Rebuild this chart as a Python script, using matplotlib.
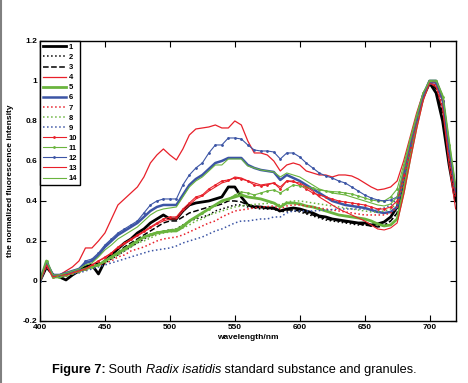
import matplotlib
matplotlib.use("Agg")
import matplotlib.pyplot as plt
import numpy as np
from matplotlib.lines import Line2D

plt.rcParams['font.family'] = ['Liberation Sans', 'DejaVu Sans']

# wavelength grid (nm), one reading every 5 nm
wl = np.arange(400, 721, 5)

# normalized fluorescence intensity, 400..720 nm
s1 = [0.00, 0.07, 0.03, 0.02, 0.005, 0.03, 0.05, 0.07, 0.08, 0.035, 0.10, 0.13, 0.16, 0.19, 0.21, 0.24, 0.26, 0.29, 0.31, 0.33,
      0.31, 0.31, 0.35, 0.38, 0.39, 0.395, 0.40, 0.41, 0.42, 0.47, 0.47, 0.42, 0.38, 0.37, 0.37, 0.365, 0.365, 0.35, 0.36, 0.365,
      0.36, 0.35, 0.34, 0.325, 0.32, 0.31, 0.305, 0.30, 0.295, 0.29, 0.29, 0.28, 0.285, 0.295, 0.32, 0.37, 0.50, 0.65, 0.80, 0.92,
      0.99, 0.94, 0.80, 0.58, 0.40]
s2 = [0.00, 0.08, 0.03, 0.03, 0.03, 0.04, 0.05, 0.06, 0.07, 0.08, 0.09, 0.11, 0.13, 0.15, 0.17, 0.19, 0.21, 0.225, 0.24, 0.25,
      0.255, 0.26, 0.28, 0.30, 0.31, 0.32, 0.33, 0.35, 0.36, 0.37, 0.38, 0.38, 0.37, 0.365, 0.36, 0.36, 0.36, 0.345, 0.35, 0.35,
      0.345, 0.335, 0.325, 0.315, 0.305, 0.30, 0.295, 0.29, 0.285, 0.28, 0.28, 0.275, 0.275, 0.28, 0.30, 0.34, 0.48, 0.64, 0.79, 0.92,
      1.00, 0.97, 0.86, 0.62, 0.42]
s3 = [0.00, 0.08, 0.03, 0.03, 0.03, 0.04, 0.05, 0.07, 0.08, 0.09, 0.10, 0.12, 0.14, 0.17, 0.19, 0.21, 0.23, 0.25, 0.27, 0.29,
      0.30, 0.30, 0.32, 0.34, 0.35, 0.36, 0.37, 0.375, 0.385, 0.40, 0.40, 0.395, 0.38, 0.375, 0.37, 0.365, 0.36, 0.35, 0.355, 0.355,
      0.35, 0.34, 0.33, 0.32, 0.31, 0.305, 0.30, 0.295, 0.29, 0.285, 0.28, 0.275, 0.27, 0.275, 0.30, 0.34, 0.48, 0.64, 0.79, 0.92,
      1.00, 0.96, 0.84, 0.60, 0.41]
s4 = [0.00, 0.08, 0.02, 0.03, 0.05, 0.07, 0.10, 0.165, 0.165, 0.20, 0.24, 0.31, 0.38, 0.41, 0.44, 0.47, 0.52, 0.59, 0.63, 0.66,
      0.63, 0.605, 0.66, 0.73, 0.76, 0.765, 0.77, 0.78, 0.765, 0.765, 0.80, 0.78, 0.70, 0.64, 0.64, 0.63, 0.60, 0.55, 0.58, 0.59,
      0.58, 0.55, 0.54, 0.53, 0.53, 0.52, 0.53, 0.53, 0.525, 0.51, 0.49, 0.47, 0.455, 0.46, 0.47, 0.50, 0.60, 0.72, 0.84, 0.94,
      0.99, 0.98, 0.90, 0.66, 0.45]
s5 = [0.00, 0.10, 0.02, 0.02, 0.03, 0.04, 0.05, 0.06, 0.07, 0.08, 0.10, 0.12, 0.14, 0.16, 0.18, 0.20, 0.22, 0.23, 0.24, 0.245,
      0.25, 0.25, 0.27, 0.30, 0.32, 0.34, 0.36, 0.38, 0.40, 0.41, 0.42, 0.43, 0.42, 0.415, 0.41, 0.40, 0.39, 0.37, 0.39, 0.39,
      0.385, 0.375, 0.37, 0.36, 0.35, 0.34, 0.33, 0.325, 0.32, 0.315, 0.31, 0.30, 0.285, 0.275, 0.28, 0.31, 0.45, 0.62, 0.78, 0.92,
      1.00, 1.00, 0.92, 0.68, 0.45]
s6 = [0.00, 0.09, 0.03, 0.03, 0.04, 0.05, 0.06, 0.09, 0.10, 0.13, 0.17, 0.20, 0.23, 0.25, 0.27, 0.29, 0.32, 0.35, 0.37, 0.38,
      0.38, 0.38, 0.43, 0.48, 0.51, 0.53, 0.56, 0.59, 0.60, 0.615, 0.615, 0.615, 0.58, 0.565, 0.555, 0.55, 0.545, 0.505, 0.53, 0.515,
      0.50, 0.48, 0.46, 0.44, 0.42, 0.40, 0.39, 0.38, 0.375, 0.37, 0.365, 0.355, 0.345, 0.34, 0.345, 0.37, 0.52, 0.67, 0.81, 0.93,
      1.00, 1.00, 0.91, 0.66, 0.44]
s7 = [0.00, 0.07, 0.02, 0.02, 0.03, 0.04, 0.05, 0.06, 0.07, 0.08, 0.09, 0.10, 0.12, 0.13, 0.15, 0.16, 0.17, 0.185, 0.20, 0.21,
      0.215, 0.22, 0.23, 0.245, 0.26, 0.275, 0.29, 0.30, 0.32, 0.335, 0.35, 0.355, 0.36, 0.365, 0.37, 0.372, 0.375, 0.36, 0.375, 0.38,
      0.38, 0.375, 0.37, 0.365, 0.36, 0.355, 0.35, 0.345, 0.34, 0.335, 0.33, 0.33, 0.33, 0.33, 0.34, 0.37, 0.50, 0.65, 0.80, 0.93,
      1.00, 0.98, 0.88, 0.62, 0.41]
s8 = [0.00, 0.09, 0.02, 0.02, 0.03, 0.04, 0.05, 0.06, 0.07, 0.08, 0.10, 0.11, 0.13, 0.15, 0.17, 0.19, 0.20, 0.215, 0.23, 0.24,
      0.245, 0.25, 0.265, 0.28, 0.30, 0.31, 0.33, 0.34, 0.35, 0.36, 0.37, 0.375, 0.38, 0.383, 0.385, 0.388, 0.39, 0.38, 0.395, 0.40,
      0.40, 0.395, 0.39, 0.385, 0.38, 0.375, 0.37, 0.365, 0.36, 0.355, 0.35, 0.345, 0.345, 0.35, 0.36, 0.39, 0.52, 0.67, 0.81, 0.93,
      1.00, 0.99, 0.90, 0.65, 0.43]
s9 = [0.00, 0.08, 0.02, 0.02, 0.03, 0.035, 0.04, 0.05, 0.06, 0.07, 0.08, 0.09, 0.10, 0.11, 0.12, 0.13, 0.14, 0.15, 0.155, 0.16,
      0.165, 0.175, 0.19, 0.20, 0.21, 0.22, 0.235, 0.25, 0.26, 0.275, 0.29, 0.30, 0.30, 0.305, 0.31, 0.31, 0.32, 0.32, 0.34, 0.35,
      0.35, 0.35, 0.35, 0.352, 0.355, 0.357, 0.36, 0.36, 0.36, 0.36, 0.36, 0.36, 0.36, 0.365, 0.38, 0.41, 0.54, 0.68, 0.82, 0.93,
      1.00, 0.99, 0.91, 0.66, 0.44]
s10 = [0.00, 0.08, 0.02, 0.03, 0.03, 0.04, 0.05, 0.06, 0.08, 0.10, 0.12, 0.14, 0.17, 0.19, 0.21, 0.23, 0.25, 0.27, 0.29, 0.31,
       0.32, 0.32, 0.36, 0.39, 0.42, 0.43, 0.46, 0.48, 0.50, 0.505, 0.515, 0.51, 0.50, 0.48, 0.475, 0.48, 0.49, 0.46, 0.50, 0.50,
       0.48, 0.46, 0.44, 0.43, 0.42, 0.41, 0.40, 0.395, 0.39, 0.385, 0.38, 0.37, 0.36, 0.36, 0.37, 0.40, 0.53, 0.67, 0.81, 0.93,
       1.00, 0.99, 0.90, 0.64, 0.43]
s11 = [0.00, 0.10, 0.02, 0.02, 0.03, 0.04, 0.05, 0.06, 0.07, 0.08, 0.10, 0.12, 0.14, 0.16, 0.18, 0.20, 0.22, 0.235, 0.245, 0.25,
       0.255, 0.26, 0.28, 0.30, 0.32, 0.34, 0.36, 0.38, 0.40, 0.41, 0.43, 0.445, 0.44, 0.43, 0.44, 0.45, 0.455, 0.44, 0.46, 0.48,
       0.475, 0.47, 0.465, 0.455, 0.45, 0.447, 0.445, 0.44, 0.435, 0.425, 0.415, 0.405, 0.40, 0.40, 0.42, 0.46, 0.58, 0.71, 0.83, 0.94,
       1.00, 1.00, 0.92, 0.68, 0.46]
s12 = [0.00, 0.09, 0.03, 0.03, 0.04, 0.05, 0.06, 0.10, 0.11, 0.14, 0.18, 0.21, 0.24, 0.26, 0.28, 0.30, 0.34, 0.38, 0.40, 0.41,
       0.41, 0.41, 0.48, 0.53, 0.565, 0.59, 0.64, 0.68, 0.68, 0.715, 0.715, 0.71, 0.68, 0.655, 0.65, 0.65, 0.645, 0.61, 0.64, 0.64,
       0.62, 0.59, 0.565, 0.54, 0.525, 0.515, 0.50, 0.49, 0.47, 0.45, 0.43, 0.415, 0.405, 0.40, 0.405, 0.42, 0.55, 0.68, 0.81, 0.93,
       0.99, 0.99, 0.90, 0.65, 0.45]
s13 = [0.00, 0.08, 0.02, 0.03, 0.03, 0.04, 0.05, 0.06, 0.08, 0.10, 0.115, 0.14, 0.165, 0.185, 0.205, 0.225, 0.245, 0.265, 0.285, 0.30,
       0.31, 0.31, 0.35, 0.38, 0.41, 0.425, 0.45, 0.47, 0.49, 0.50, 0.52, 0.515, 0.50, 0.49, 0.48, 0.485, 0.49, 0.47, 0.50, 0.495,
       0.49, 0.47, 0.45, 0.42, 0.40, 0.38, 0.36, 0.345, 0.33, 0.315, 0.30, 0.28, 0.26, 0.255, 0.265, 0.29, 0.43, 0.60, 0.76, 0.90,
       0.99, 0.97, 0.86, 0.58, 0.36]
s14 = [0.00, 0.10, 0.03, 0.03, 0.04, 0.05, 0.06, 0.08, 0.09, 0.12, 0.155, 0.18, 0.21, 0.23, 0.25, 0.27, 0.30, 0.33, 0.35, 0.36,
       0.365, 0.37, 0.42, 0.47, 0.50, 0.52, 0.55, 0.58, 0.58, 0.61, 0.61, 0.61, 0.575, 0.565, 0.555, 0.55, 0.545, 0.52, 0.54, 0.53,
       0.52, 0.50, 0.48, 0.46, 0.45, 0.44, 0.435, 0.43, 0.42, 0.41, 0.40, 0.39, 0.38, 0.375, 0.385, 0.42, 0.56, 0.70, 0.82, 0.94,
       1.00, 1.00, 0.93, 0.70, 0.47]

series = [s1, s2, s3, s4, s5, s6, s7, s8, s9, s10, s11, s12, s13, s14]
labels = [str(i) for i in range(1, 15)]

red = '#e8202a'
green = '#6ab43e'
blue = '#3c55a5'
# (color, linestyle, linewidth, marker) for each numbered sample
styles = [('black', '-', 2.0, None), ('black', ':', 1.1, None), ('black', '--', 1.1, None),
          (red, '-', 0.9, None), (green, '-', 2.0, None), (blue, '-', 1.8, None),
          (red, ':', 1.1, None), (green, ':', 1.1, None), (blue, ':', 1.1, None),
          (red, '-', 0.8, '.'), (green, '-', 0.8, '.'), (blue, '-', 0.8, '.'),
          (red, '-', 0.8, None), (green, '-', 0.8, None)]

fig = plt.figure(figsize=(4.68, 3.83), dpi=100)
ax = fig.add_axes([0.0855, 0.162, 0.888, 0.731])

for y, lab, (c, ls, lw, mk) in zip(series, labels, styles):
    ax.plot(wl, y, color=c, linestyle=ls, linewidth=lw, marker=mk,
            markersize=2.0, label=lab)

ax.set_xlim(400, 720)
ax.set_ylim(-0.2, 1.2)
ax.set_xticks([400, 450, 500, 550, 600, 650, 700])
ax.set_yticks([-0.2, 0, 0.2, 0.4, 0.6, 0.8, 1, 1.2])
ax.set_yticklabels(['-0.2', '0', '0.2', '0.4', '0.6', '0.8', '1', '1.2'])
ax.tick_params(direction='in', top=True, right=True, length=4, width=0.8,
               labelsize=6, pad=2)
for t in ax.get_xticklabels() + ax.get_yticklabels():
    t.set_fontweight('bold')
for sp in ax.spines.values():
    sp.set_linewidth(1.0)

ax.set_xlabel('wavelength/nm', fontsize=6, fontweight='bold', labelpad=2)
ax.set_ylabel('the normalized fluorescence intensity', fontsize=6,
              fontweight='bold', labelpad=6)

leg = ax.legend(loc='upper left', handlelength=3.0,
                handletextpad=0.4, labelspacing=0.36, borderpad=0.35,
                borderaxespad=0, fancybox=False, framealpha=1,
                edgecolor='black', prop={'weight': 'bold', 'size': 5.5})
leg.get_frame().set_linewidth(1.0)

# caption, written piece by piece so bold / italic runs line up
fig.canvas.draw()
r = fig.canvas.get_renderer()
parts = [('Figure 7:', 'bold', 'normal'), (' South ', 'normal', 'normal'),
         ('Radix isatidis', 'normal', 'italic'),
         (' standard substance and granules.', 'normal', 'normal')]
texts = []
x = 0
for s, w, st in parts:
    t = fig.text(x, 0.026, s, fontsize=9.2, fontweight=w, fontstyle=st,
                 ha='left', va='baseline')
    texts.append(t)
    x += t.get_window_extent(r).width / fig.bbox.width
xx = 0.5 - x / 2
for t in texts:
    t.set_x(xx)
    xx += t.get_window_extent(r).width / fig.bbox.width

# grey page edge on the left
fig.add_artist(Line2D([0.002, 0.002], [0, 1], transform=fig.transFigure,
                      color='#808080', linewidth=1.5))

fig.savefig('out.png', dpi=100)
